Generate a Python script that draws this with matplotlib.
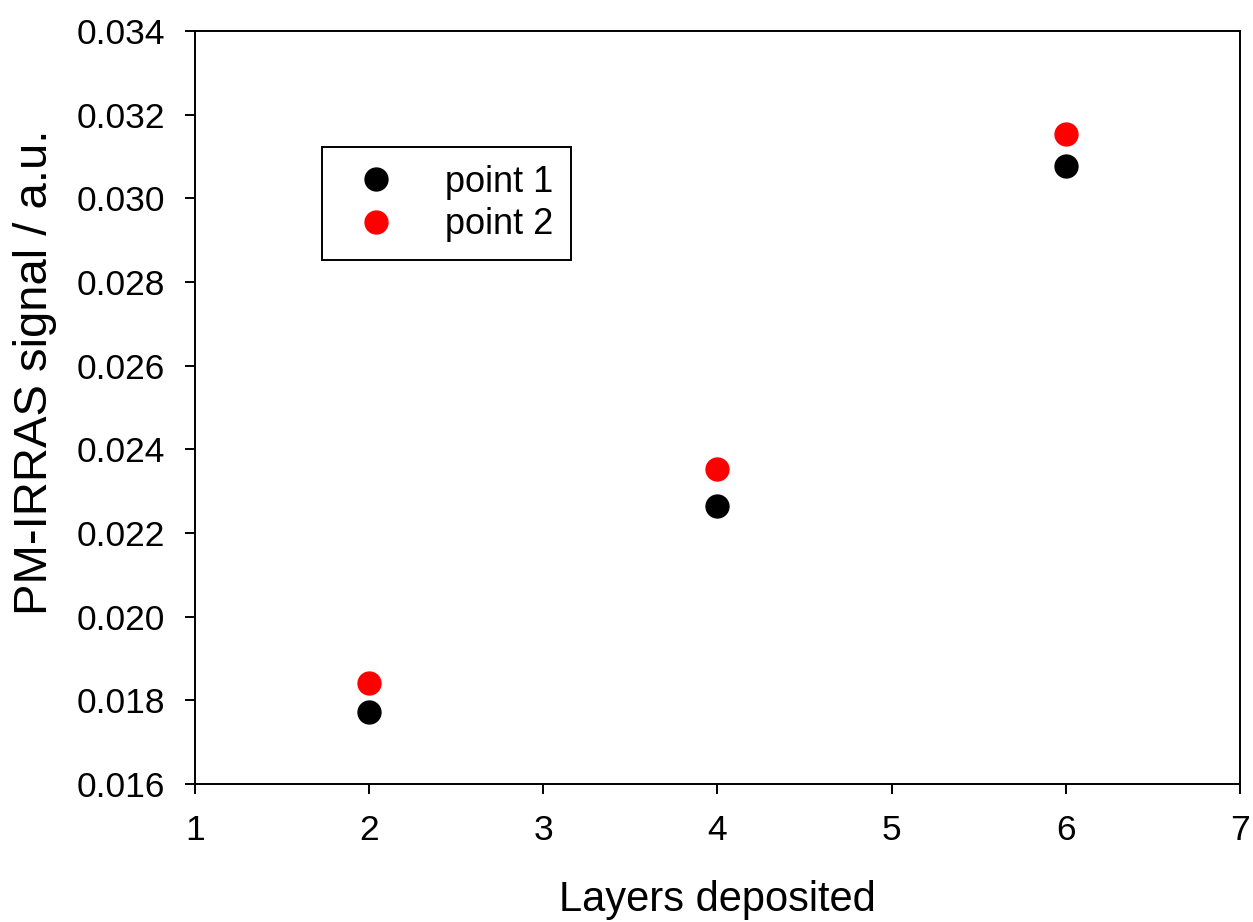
import matplotlib
matplotlib.use('Agg')
import matplotlib.pyplot as plt

plt.rcParams['font.family'] = ['Liberation Sans', 'DejaVu Sans']

layers = [2, 4, 6]
point1 = [0.01773, 0.02264, 0.03077]
point2 = [0.01842, 0.02354, 0.03153]

xticks = [1, 2, 3, 4, 5, 6, 7]
yticks = [0.016, 0.018, 0.020, 0.022, 0.024, 0.026, 0.028, 0.030, 0.032, 0.034]

fig = plt.figure(figsize=(12.53, 9.22), dpi=100)
ax = fig.add_axes([195/1253, 1-784/922, 1045/1253, 753/922])

ax.plot(layers, point1, 'o', color='black', markersize=16.5, label='point 1', clip_on=False)
ax.plot(layers, point2, 'o', color='red', markersize=16.5, label='point 2', clip_on=False)

ax.set_xlim(1, 7)
ax.set_ylim(0.016, 0.034)
ax.set_xticks(xticks)
ax.set_yticks(yticks)
ax.set_yticklabels(['%.3f' % v for v in yticks])

for s in ax.spines.values():
    s.set_linewidth(1.4)
ax.tick_params(direction='out', length=7.5, width=1.4, labelsize=25.5)
ax.tick_params(axis='x', pad=14)
ax.tick_params(axis='y', pad=14)

ax.set_xlabel('Layers deposited', fontsize=30, labelpad=24)
ax.set_ylabel('PM-IRRAS signal / a.u.', fontsize=34)
ax.yaxis.set_label_coords(-0.132, 0.547)

leg = ax.legend(loc='upper left', bbox_to_anchor=(0.1215, 0.846), fontsize=26,
                frameon=True, fancybox=False, edgecolor='black', framealpha=1,
                borderpad=0.5, handletextpad=0.9, labelspacing=0.2,
                handlelength=2.0, borderaxespad=0)
leg.get_frame().set_linewidth(1.4)

fig.savefig('out.png', dpi=100)
